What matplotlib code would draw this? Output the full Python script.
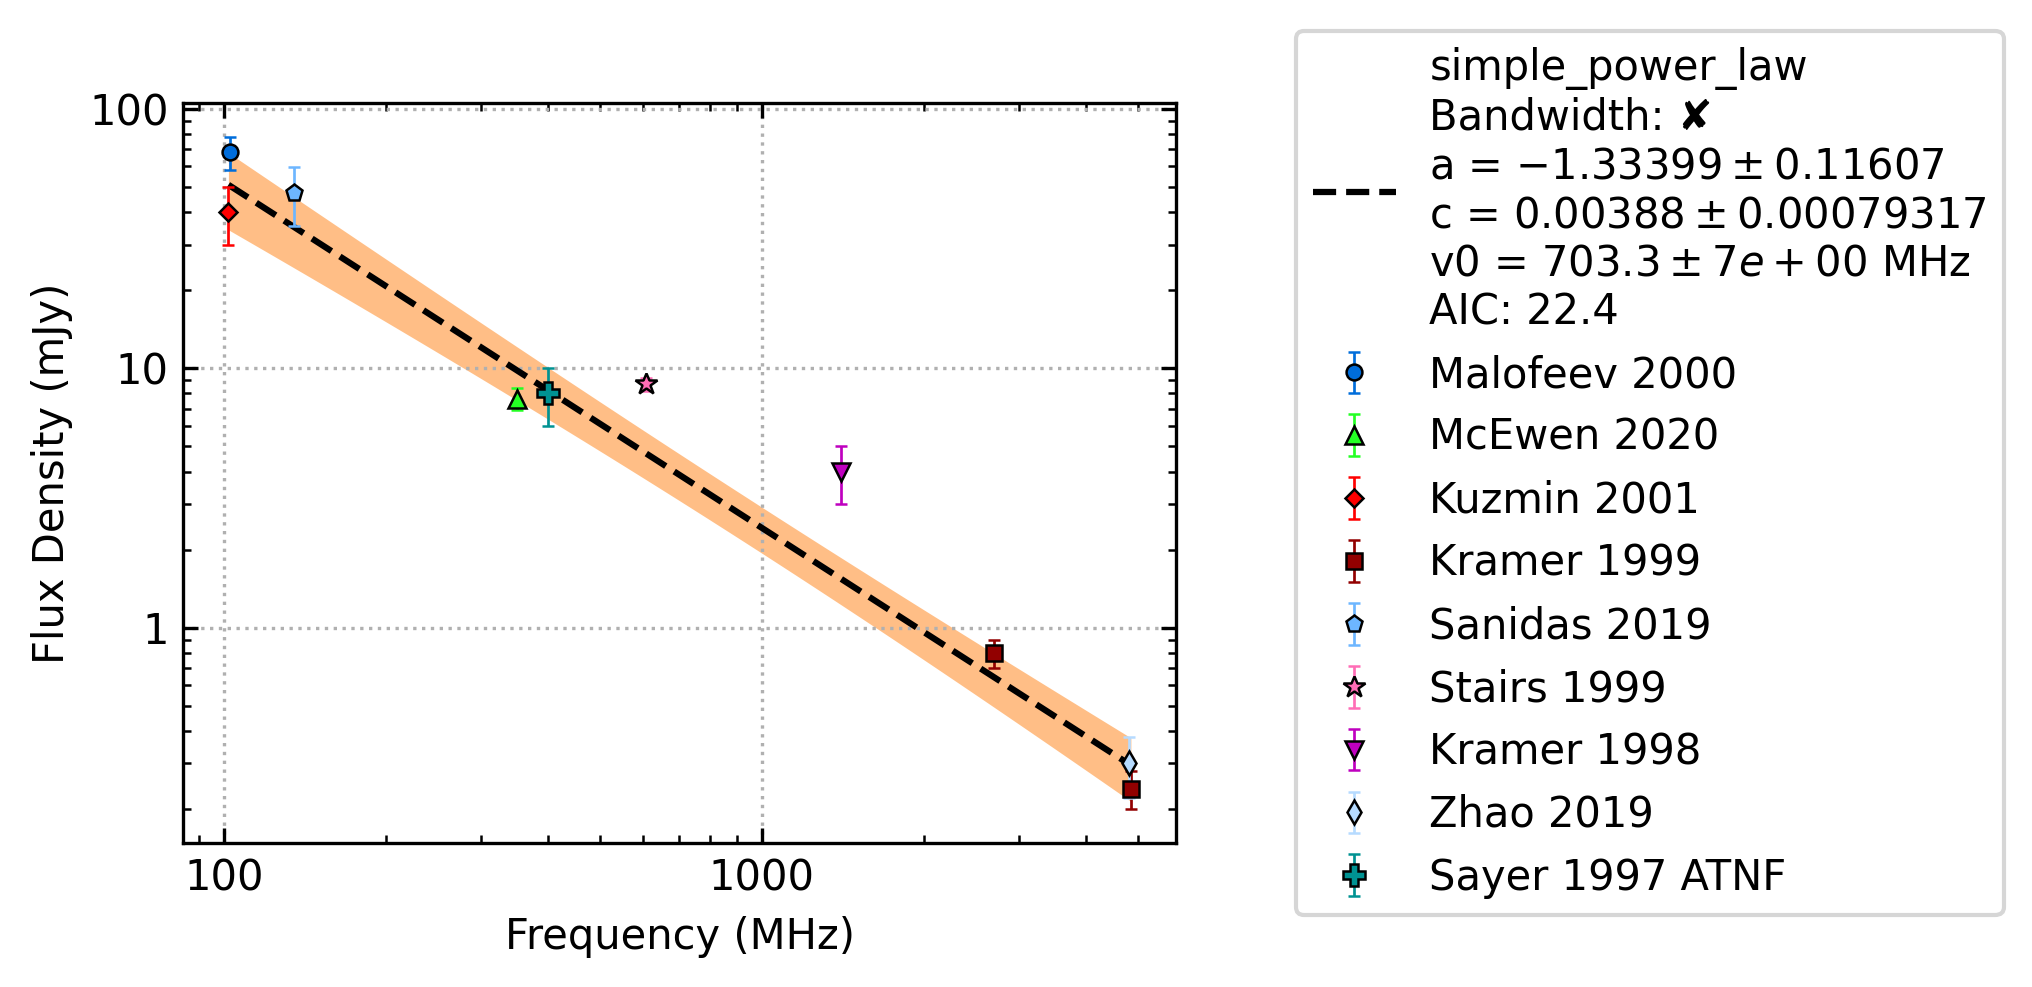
import numpy as np
import matplotlib
matplotlib.use("Agg")
import matplotlib.pyplot as plt
from matplotlib.ticker import FuncFormatter, NullFormatter

# ---------------- data ----------------
labels = ["Malofeev 2000", "McEwen 2020", "Kuzmin 2001", "Kramer 1999",
          "Sanidas 2019", "Stairs 1999", "Kramer 1998", "Zhao 2019",
          "Sayer 1997 ATNF"]

malofeev_freq = [102.5]
malofeev_flux = [68.0]
malofeev_err = [10.0]

mcewen_freq = [350.0]
mcewen_flux = [7.65]
mcewen_err = [0.75]

kuzmin_freq = [102.0]
kuzmin_flux = [40.0]
kuzmin_err = [10.0]

kramer99_freq = [2700.0, 4850.0]
kramer99_flux = [0.80, 0.24]
kramer99_err = [0.10, 0.04]

sanidas_freq = [135.0]
sanidas_flux = [47.5]
sanidas_err = [12.0]

stairs_freq = [610.0]
stairs_flux = [8.7]
stairs_err = [0.5]

kramer98_freq = [1400.0]
kramer98_flux = [4.0]
kramer98_err = [1.0]

zhao_freq = [4820.0]
zhao_flux = [0.30]
zhao_err = [0.08]

sayer_freq = [400.0]
sayer_flux = [8.0]
sayer_err = [2.0]

# fit parameters shown in the legend
fit_name = "simple_power_law"
fit_a, fit_a_err = -1.33399, 0.11607
fit_c, fit_c_err = 0.00388, 0.00079317     # Jy
fit_v0 = 703.3                              # MHz
fit_v0_err_txt = "7e+00"
fit_aic = 22.4
fit_rho = -0.18                             # a-c correlation (band shape)

# ---------------- styles ----------------
colors = ["#006ddb", "#24ff24", "#ff0000", "#920000", "#6db6ff",
          "#ff6db6", "#bf00bf", "#b6dbff", "#009292"]
markers = ["o", "^", "D", "s", "p", "*", "v", "d", "P"]
msizes = [3.8, 4.3, 3.0, 3.8, 4.1, 5.5, 4.3, 4.2, 5.2]

series = [
    (malofeev_freq, malofeev_flux, malofeev_err),
    (mcewen_freq, mcewen_flux, mcewen_err),
    (kuzmin_freq, kuzmin_flux, kuzmin_err),
    (kramer99_freq, kramer99_flux, kramer99_err),
    (sanidas_freq, sanidas_flux, sanidas_err),
    (stairs_freq, stairs_flux, stairs_err),
    (kramer98_freq, kramer98_flux, kramer98_err),
    (zhao_freq, zhao_flux, zhao_err),
    (sayer_freq, sayer_flux, sayer_err),
]

plt.rcParams["font.family"] = ["DejaVu Sans"]
plt.rcParams["font.size"] = 10

W, H, DPI = 2032, 987, 300
fig = plt.figure(figsize=(W / DPI, H / DPI), dpi=DPI)
ax = fig.add_axes([183.3 / W, 1 - 842.7 / H, (1176 - 183.3) / W, (842.7 - 103.3) / H])

# ---------------- fit curve + band ----------------
all_freq = np.concatenate([np.asarray(s[0]) for s in series])
fv = np.logspace(np.log10(all_freq.min()), np.log10(all_freq.max()), 200)
S = fit_c * (fv / fit_v0) ** fit_a * 1000.0  # mJy
L = np.log(fv / fit_v0)
ra = L * fit_a_err
rc = fit_c_err / fit_c
rel = np.sqrt(ra ** 2 + rc ** 2 + 2 * fit_rho * ra * rc)
ax.fill_between(fv, S * (1 - rel), S * (1 + rel), color="C1", alpha=0.5, lw=0)

fit_label = (f"{fit_name}\nBandwidth: \u2718\n"
             f"a = ${fit_a:.5f} \\pm {fit_a_err:.5f}$\n"
             f"c = ${fit_c:.5f} \\pm {fit_c_err:.8f}$\n"
             f"v0 = ${fit_v0:.1f} \\pm {fit_v0_err_txt}$ MHz\n"
             f"AIC: {fit_aic:.1f}")
ax.plot(fv, S, "k--", lw=1.5, label=fit_label)

# ---------------- data points ----------------
for (f, s, e), lab, col, mk, ms in zip(series, labels, colors, markers, msizes):
    ax.errorbar(f, s, yerr=e, fmt=mk, ls="none", color=col, mfc=col,
                mec="k", mew=0.6, ms=ms, capsize=1.5, elinewidth=0.65,
                capthick=0.65, label=lab)

ax.set_xscale("log")
ax.set_yscale("log")
fmt = FuncFormatter(lambda v, p: f"{v:g}")
ax.xaxis.set_major_formatter(fmt)
ax.yaxis.set_major_formatter(fmt)
ax.xaxis.set_minor_formatter(NullFormatter())
ax.yaxis.set_minor_formatter(NullFormatter())
ax.tick_params(which="both", direction="in", top=True, right=True)
ax.grid(True, which="major", ls=":", color="#b0b0b0", lw=0.8)

ax.set_xlabel("Frequency (MHz)")
ax.set_ylabel("Flux Density (mJy)")

ax.legend(loc="center left", bbox_to_anchor=(1.1, 0.5))

fig.savefig("out.png", dpi=DPI)
